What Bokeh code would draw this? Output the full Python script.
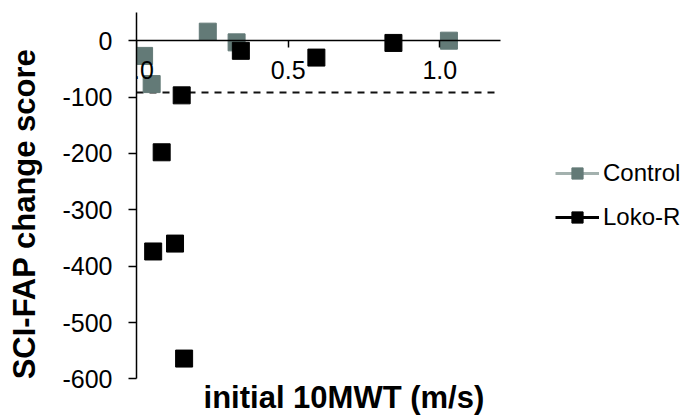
from bokeh.plotting import figure
from bokeh.models import (ColumnDataSource, FixedTicker, Label, Legend,
                          LegendItem, Range1d)
from bokeh.embed import file_html
from bokeh.resources import INLINE

# ---- data ----
control_x = [0.025, 0.05, 0.235, 0.33, 1.03]
control_y = [-27, -77, 16, -3, 0]
loko_x = [0.055, 0.083, 0.127, 0.149, 0.157, 0.344, 0.593, 0.847]
loko_y = [-374, -198, -360, -97, -564, -18, -30, -4]
x_ticks = [0.0, 0.5, 1.0]
x_tick_labels = ["0.0", "0.5", "1.0"]
y_ticks = [-600, -500, -400, -300, -200, -100, 0]
y_tick_labels = ["-600", "-500", "-400", "-300", "-200", "-100", "0"]
x_axis_limits = (0.0, 1.2)
y_axis_limits = (-600, 50)
threshold = -92
series_names = ["Control", "Loko-R"]
x_title = "initial 10MWT (m/s)"
y_title = "SCI-FAP change score"

FONT = "Liberation Sans"
CTRL_COLOR = "#637a77"
CTRL_LINE = "#a3b1ae"
LOKO_COLOR = "#000000"

# frame extends to the right/bottom edge so that legend and x title
# (drawn inside the frame) are not clipped; axes are bounded.
p = figure(width=682, height=415,
           x_range=Range1d(0, 1.8), y_range=Range1d(-665, 50),
           output_backend="svg", toolbar_location=None,
           min_border_left=136, min_border_right=0,
           min_border_top=12, min_border_bottom=0)
p.outline_line_color = None
p.grid.visible = False
p.background_fill_color = "white"
p.border_fill_color = "white"

# x axis drawn at y = 0
xa = p.xaxis[0]
xa.fixed_location = 0
xa.bounds = x_axis_limits
xa.ticker = FixedTicker(ticks=x_ticks)
xa.major_label_overrides = {t: s for t, s in zip(x_ticks, x_tick_labels)}
xa.minor_tick_line_color = None
xa.major_tick_in = 0
xa.major_tick_out = 7
xa.major_label_standoff = 13
xa.axis_line_width = 1.5
xa.major_tick_line_width = 1.5
xa.major_label_text_font = FONT
xa.major_label_text_font_size = "25px"
xa.major_label_text_color = "black"

ya = p.yaxis[0]
ya.bounds = y_axis_limits
ya.ticker = FixedTicker(ticks=y_ticks)
ya.major_label_overrides = {t: s for t, s in zip(y_ticks, y_tick_labels)}
ya.minor_tick_line_color = None
ya.major_tick_in = 0
ya.major_tick_out = 8
ya.major_label_standoff = 16
ya.axis_line_width = 1.5
ya.major_tick_line_width = 1.5
ya.major_label_text_font = FONT
ya.major_label_text_font_size = "25px"
ya.major_label_text_color = "black"
ya.axis_label = y_title
ya.axis_label_text_font = FONT
ya.axis_label_text_font_size = "31px"
ya.axis_label_text_font_style = "bold"
ya.axis_label_text_color = "black"
ya.axis_label_standoff = 17

# x axis title, placed just under the bottom of the y axis
p.add_layout(Label(x=0.221, y=y_axis_limits[0], text=x_title, text_align="left",
                   text_baseline="top", y_offset=-1, text_font=FONT,
                   text_font_size="31px", text_font_style="bold",
                   text_color="black"))

# dashed threshold line across the axis extent
p.segment(x0=[x_axis_limits[0]], x1=[x_axis_limits[1]],
          y0=[threshold], y1=[threshold],
          line_color="#111111", line_width=2, line_dash="7 6")

ctrl_src = ColumnDataSource(data=dict(x=control_x, y=control_y))
loko_src = ColumnDataSource(data=dict(x=loko_x, y=loko_y))
# legend-only line glyphs (no visible data)
nan_src = ColumnDataSource(data=dict(x=[float("nan")], y=[float("nan")]))

l_ctrl = p.line(x="x", y="y", source=nan_src, line_color=CTRL_LINE, line_width=3)
l_loko = p.line(x="x", y="y", source=nan_src, line_color=LOKO_COLOR, line_width=3)
s_ctrl = p.scatter(x="x", y="y", source=ctrl_src, marker="square", size=17,
                   fill_color=CTRL_COLOR, line_color=CTRL_COLOR)
s_loko = p.scatter(x="x", y="y", source=loko_src, marker="square", size=17,
                   fill_color=LOKO_COLOR, line_color=LOKO_COLOR)

legend = Legend(items=[LegendItem(label=series_names[0], renderers=[l_ctrl, s_ctrl]),
                       LegendItem(label=series_names[1], renderers=[l_loko, s_loko])],
                location=(419, 184), glyph_width=44, glyph_height=28,
                label_height=28, spacing=16, padding=0, margin=0,
                label_standoff=4, border_line_color=None,
                background_fill_alpha=0,
                label_text_font=FONT, label_text_font_size="24px",
                label_text_color="black")
p.add_layout(legend)

open("out.html", "w").write(file_html(p, INLINE))
